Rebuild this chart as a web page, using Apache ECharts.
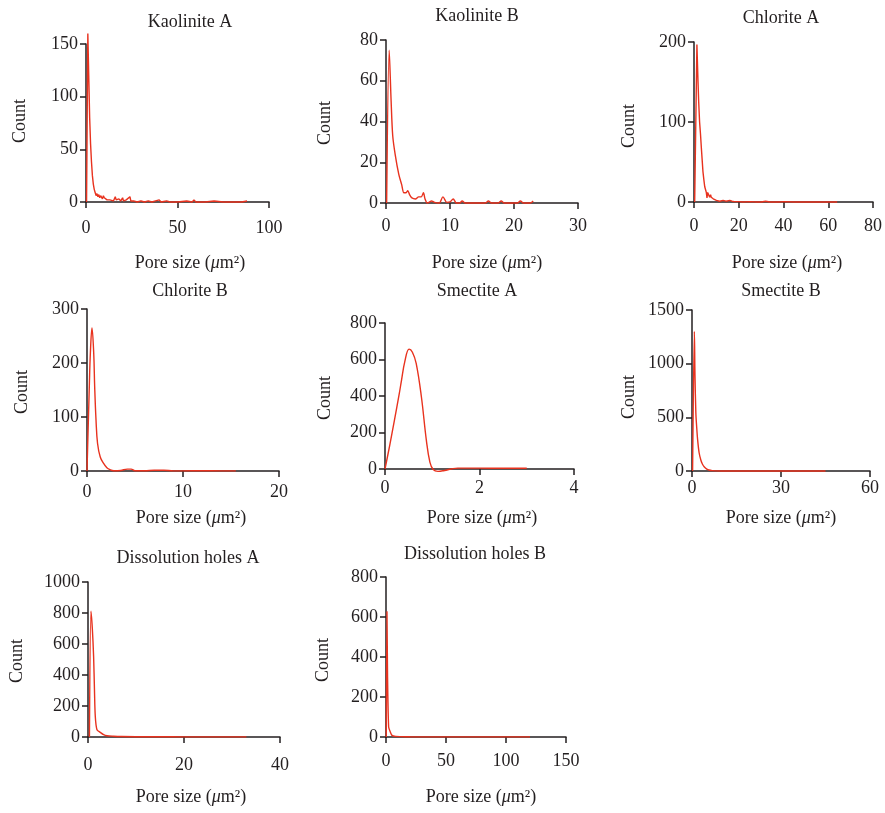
<!DOCTYPE html>
<html>
<head>
<meta charset="utf-8">
<script src="https://cdn.jsdelivr.net/npm/echarts@6/dist/echarts.min.js"></script>
<style>html,body{margin:0;padding:0;background:#fff;}#c{width:885px;height:813px;}</style>
</head>
<body>
<div id="c"></div>
<script>
// ---- data ----
const titles = ['Kaolinite A','Kaolinite B','Chlorite A','Chlorite B','Smectite A','Smectite B','Dissolution holes A','Dissolution holes B'];
const xMax  = [100, 30, 80, 20, 4, 60, 40, 150];
const xStep = [50, 10, 20, 10, 2, 30, 20, 50];
const yMax  = [150, 80, 200, 300, 800, 1500, 1000, 800];
const yStep = [50, 20, 100, 100, 200, 500, 200, 200];

const kaoliniteA = [[0.3,0],[1,160],[1.5,120],[2,80],[2.5,55],[3,38],[3.5,25],[4,17],[4.5,12],[5,9],[5.5,6],[6,8],[6.5,5],[7,7],[7.5,4],[8,6],[8.5,5],[9,3],[9.5,6],[10,4],[10.5,3],[11,5],[11.5,2],[12,3],[13,2],[14,3],[15,1],[16,5],[16.5,2],[17,1],[18,3],[19,1],[20,4],[20.5,1],[21,0],[22,2],[23,1],[24,5],[24.5,1],[25,0],[26,1],[27,2],[28,0],[30,1],[32,0],[34,1],[36,0],[38,1],[40,2],[41,0],[44,1],[46,0],[50,0],[55,1],[58,0],[59,2],[60,0],[65,0],[70,1],[75,0],[80,0],[85,0],[88,1]];
const kaoliniteB = [[0.1,0],[0.5,75],[0.8,50],[1.05,33],[1.45,23.5],[2,14],[2.45,9],[2.8,5],[3.1,5],[3.4,6],[3.7,4],[4.05,2.5],[4.6,2],[5.1,3],[5.5,3],[5.85,5],[6.1,2],[6.45,0],[6.8,0.5],[7.1,1],[7.6,0.3],[8.3,0],[8.9,3],[9.5,0.3],[10,0.5],[10.5,2],[11,0],[11.5,0],[11.9,1],[12.4,0],[13,0],[14,0],[15.5,0],[16,1],[16.5,0],[17.5,0],[18,1],[18.5,0],[20.5,0],[21,1],[21.5,0],[22.5,0],[23,1]];
const chloriteA = [[0.3,0],[1.3,197],[1.8,150],[2.1,125],[2.5,100],[2.9,85],[3.3,67],[4,38],[4.4,28],[4.8,19],[5.2,15],[5.5,12],[5.8,5],[6.1,12],[6.5,10],[7,6],[7.4,9],[7.7,6],[8,4],[8.6,4],[9.2,3],[10,2],[10.7,2],[11.5,1],[12.2,1.5],[13,2],[13.7,3],[14.3,1],[15,1],[16,2],[16.5,2.5],[17,1],[18,0.5],[20,0.5],[22,0],[25,0.5],[28,0],[30,0],[32,1],[34,0],[38,0],[40,0.5],[45,0],[50,0],[55,0],[60,0],[64,0]];
const chloriteB = [[0,0],[0.24,156],[0.35,218],[0.52,265],[0.7,218],[0.8,156],[0.94,94],[1.1,51],[1.38,26],[1.73,14],[2.07,6],[2.4,2.4],[2.8,0.5],[3.5,1],[4.2,3.5],[4.6,3.5],[5,0.5],[6,0.5],[7,1.5],[8,1.5],[9,0.3],[10,0.3],[12,0.5],[14,0.3],[15.5,0.3]];
const smectiteA = [[0,0],[0.1,130],[0.2,268],[0.3,410],[0.35,487],[0.42,590],[0.51,657],[0.58,640],[0.66,579],[0.77,396],[0.875,158],[0.95,38],[1.02,-3],[1.12,-13],[1.26,-8],[1.4,0],[1.54,5],[2,5],[2.5,4],[3,4]];
const smectiteB = [[0.2,0],[0.8,1300],[1.0,900],[1.3,540],[1.6,400],[1.9,290],[2.4,170],[3,100],[3.5,65],[4.1,40],[5,18],[5.7,9],[6.8,3],[8,1],[10,0],[20,0],[30,0],[40,0],[45,0]];
const dissolutionA = [[0.3,0],[0.62,812],[0.9,700],[1.17,518],[1.35,300],[1.52,132],[1.87,47],[2.56,30],[3.25,15],[3.95,8],[5.3,5],[7,3],[10,2],[15,2],[20,1],[25,1],[30,1],[33,1]];
const dissolutionB = [[0.2,0],[0.8,627],[1.3,300],[2.2,50],[3.6,25],[5,8],[8,3],[12,2],[20,1],[40,0.5],[60,0.5],[80,0.5],[100,0.5],[120,0.5]];
const seriesData = [kaoliniteA, kaoliniteB, chloriteA, chloriteB, smectiteA, smectiteB, dissolutionA, dissolutionB];

// ---- layout ----
const gridBox = [[86,44,183,158],[386,40,192,163],[694,42,179,160],[87,309,192,162],[385,323,189,146],[692,310,178,161],[88,582,192,155],[386,577,180,160]];
const xLabelMargin = [17,14,15,12,10,8,19,15];
const smoothing = [false,0.3,false,0.4,0.4,0.3,0.3,0.2];
const titlePos = [[190,22],[477,16],[781,18],[190,291],[477,291],[781,291],[188,558],[475,554]];
const xNamePos = [[190,263],[487,263],[787,263],[191,518],[482,518],[781,518],[191,797],[481,797]];
const yNamePos = [[20,121],[325,123],[629,126],[22,392],[325,398],[629,397],[17,661],[323,660]];

const FONT = "'Liberation Serif', 'Times New Roman', serif";
const FS = 18;
const TXT = '#231f20';
const AX = '#231f20';

const grid = [], xAxis = [], yAxis = [], series = [], graphic = [];
for (let i = 0; i < 8; i++) {
  const g = gridBox[i];
  grid.push({left:g[0], top:g[1], width:g[2], height:g[3], containLabel:false});
  xAxis.push({type:'value', gridIndex:i, min:0, max:xMax[i], interval:xStep[i],
    axisLine:{show:true, onZero:false, lineStyle:{color:AX, width:1.5}},
    axisTick:{show:true, length:6, lineStyle:{color:AX, width:1.5}},
    splitLine:{show:false},
    axisLabel:{color:TXT, fontFamily:FONT, fontSize:FS, margin:xLabelMargin[i], formatter:v => String(v)}});
  yAxis.push({type:'value', gridIndex:i, min:0, max:yMax[i], interval:yStep[i],
    axisLine:{show:true, lineStyle:{color:AX, width:1.5}},
    axisTick:{show:true, length:6, lineStyle:{color:AX, width:1.5}},
    splitLine:{show:false},
    axisLabel:{color:TXT, fontFamily:FONT, fontSize:FS, margin:8, formatter:v => String(v)}});
  series.push({type:'line', xAxisIndex:i, yAxisIndex:i, data:seriesData[i],
    showSymbol:false, smooth:smoothing[i], clip:false,
    lineStyle:{color:'#e8321e', width:1.4}, itemStyle:{color:'#e8321e'}, silent:true, animation:false});
  graphic.push({type:'text', x:titlePos[i][0], y:titlePos[i][1],
    style:{text:titles[i], font:FS + 'px ' + FONT, fill:TXT, textAlign:'center', textVerticalAlign:'middle'}});
  graphic.push({type:'text', x:xNamePos[i][0], y:xNamePos[i][1],
    style:{text:'{a|Pore size (}{i|\u03bc}{a|m\u00b2)}', textAlign:'center', textVerticalAlign:'middle',
      rich:{a:{fontFamily:FONT, fontSize:FS, fill:TXT, color:TXT}, i:{fontFamily:FONT, fontSize:FS, fontStyle:'italic', fill:TXT, color:TXT}}}});
  graphic.push({type:'text', x:yNamePos[i][0], y:yNamePos[i][1], rotation:Math.PI/2,
    style:{text:'Count', font:FS + 'px ' + FONT, fill:TXT, textAlign:'center', textVerticalAlign:'middle'}});
}

const chart = echarts.init(document.getElementById('c'), null, {renderer:'canvas'});
chart.setOption({animation:false, backgroundColor:'#fff', grid, xAxis, yAxis, series, graphic});
</script>
</body>
</html>
